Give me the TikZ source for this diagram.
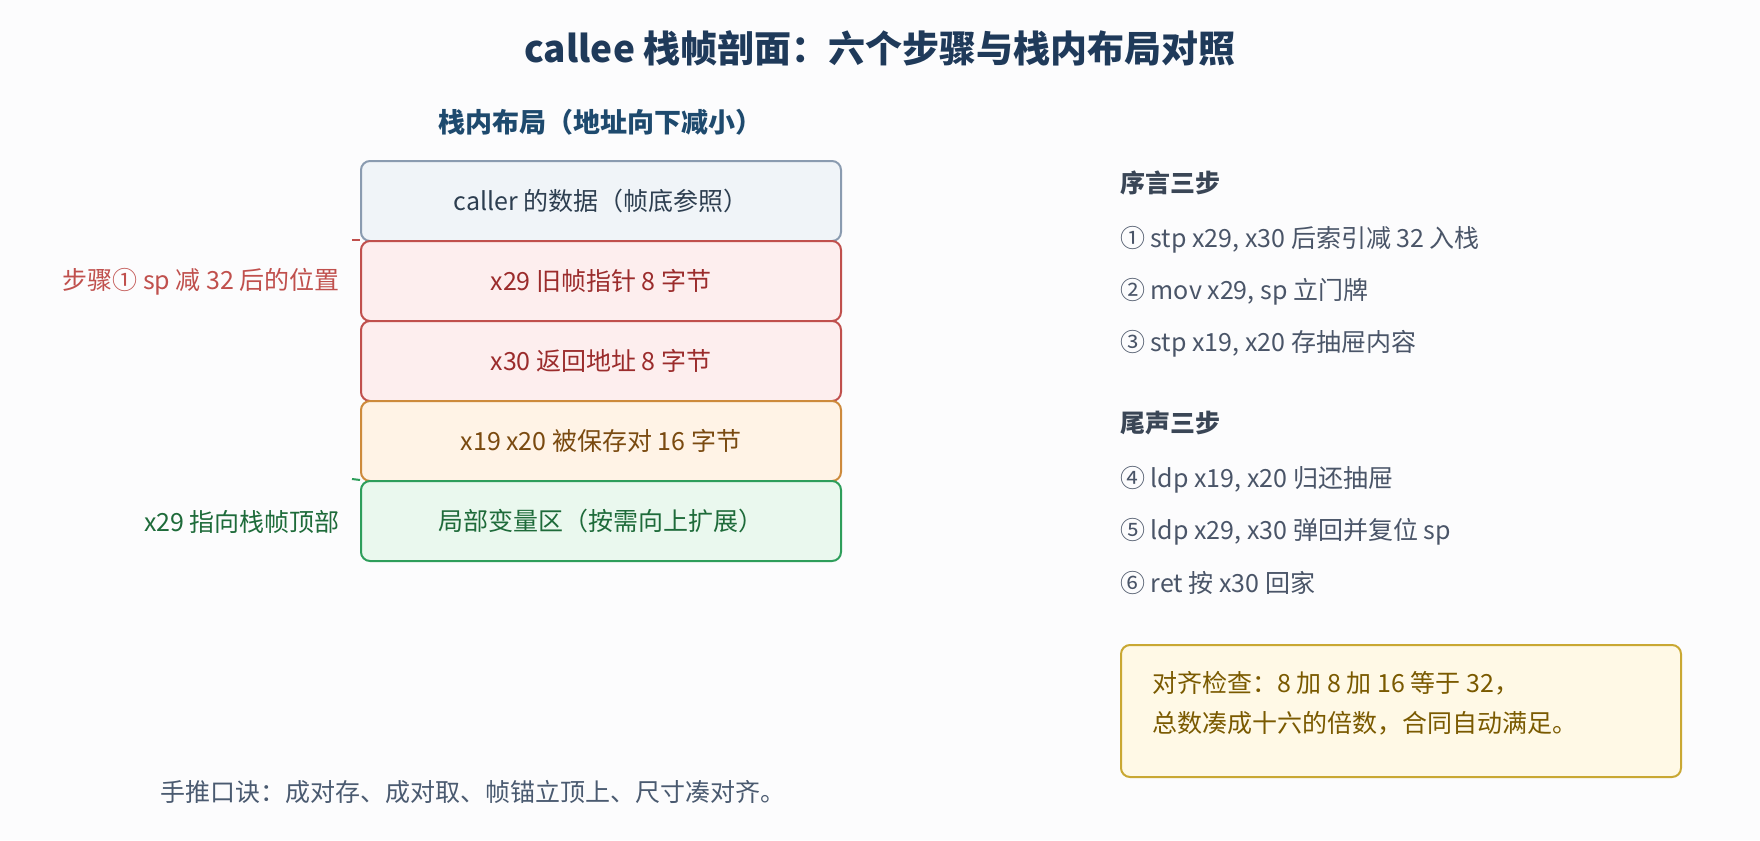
\documentclass[tikz,border=0pt]{standalone}
\usepackage{fontspec}
\setmainfont{Noto Sans CJK SC}
\definecolor{bgc}{HTML}{FCFCFD}
\definecolor{titlec}{HTML}{1F3A5A}
\definecolor{subc}{HTML}{1E4A6E}
\definecolor{grayfill}{HTML}{F0F4F8}
\definecolor{grayline}{HTML}{8A9BB0}
\definecolor{graytext}{HTML}{2D3E50}
\definecolor{redfill}{HTML}{FDEEEE}
\definecolor{redline}{HTML}{C0504D}
\definecolor{redtext}{HTML}{9B2C2C}
\definecolor{redlabel}{HTML}{C0504D}
\definecolor{orfill}{HTML}{FFF3E6}
\definecolor{orline}{HTML}{CD8A3C}
\definecolor{ortext}{HTML}{7A4A10}
\definecolor{grfill}{HTML}{EAF8EE}
\definecolor{grline}{HTML}{2E9E5B}
\definecolor{grtext}{HTML}{1E6B3A}
\definecolor{headc}{HTML}{3A4656}
\definecolor{itemc}{HTML}{4A5568}
\definecolor{yfill}{HTML}{FFF9E6}
\definecolor{yline}{HTML}{C9A833}
\definecolor{ytext}{HTML}{7A5A00}
\definecolor{footc}{HTML}{4A5A70}
\newcommand{\fsz}[1]{\fontsize{#1}{#1}\selectfont}
\begin{document}
\begin{tikzpicture}[x=1pt,y=-1pt,
  slab/.style={draw, line width=2pt, rounded corners=9pt, minimum width=480pt, minimum height=80pt, inner sep=0pt, anchor=north west, font=\fsz{25}},
  lbl/.style={anchor=east, inner sep=0pt, font=\fsz{25}},
  item/.style={anchor=west, inner sep=0pt, font=\fsz{25}, text=itemc},
  head/.style={anchor=west, inner sep=0pt, font=\bfseries\fsz{25}, text=headc},
  tick/.style={line width=2pt}]
\useasboundingbox (0,0) rectangle (1760,840);
\fill[bgc] (0,0) rectangle (1760,840);

\node[font=\bfseries\fsz{37}, text=titlec, inner sep=0pt] (title) at (880,48) {callee 栈帧剖面：六个步骤与栈内布局对照};
\node[font=\bfseries\fsz{27}, text=subc, inner sep=0pt] (sub) at (600,122) {栈内布局（地址向下减小）};

\node[slab, fill=grayfill, draw=grayline, text=graytext] (caller) at (360,160) {caller 的数据（帧底参照）};
\node[slab, fill=redfill, draw=redline, text=redtext] (fp) at (360,240) {x29 旧帧指针 8 字节};
\node[slab, fill=redfill, draw=redline, text=redtext] (lr) at (360,320) {x30 返回地址 8 字节};
\node[slab, fill=orfill, draw=orline, text=ortext] (saved) at (360,400) {x19 x20 被保存对 16 字节};
\node[slab, fill=grfill, draw=grline, text=grtext] (local) at (360,480) {局部变量区（按需向上扩展）};

\node[lbl, text=redlabel] (splbl) at (340,282) {步骤① sp 减 32 后的位置};
\node[lbl, text=grtext] (fplbl) at (340,522) {x29 指向栈帧顶部};
\coordinate (t1) at (352,240);
\coordinate (t2) at (352,479);
\draw[tick, redline] (t1) -- (fp.north west);
\draw[tick, grline] (t2) -- (local.north west);

\node[head] (h1) at (1120,183) {序言三步};
\node[item] (s1) at (1120,240) {① stp x29, x30 后索引减 32 入栈};
\node[item] (s2) at (1120,292) {② mov x29, sp 立门牌};
\node[item] (s3) at (1120,344) {③ stp x19, x20 存抽屉内容};
\node[head] (h2) at (1120,423) {尾声三步};
\node[item] (s4) at (1120,480) {④ ldp x19, x20 归还抽屉};
\node[item] (s5) at (1120,532) {⑤ ldp x29, x30 弹回并复位 sp};
\node[item] (s6) at (1120,583) {⑥ ret 按 x30 回家};

\node[draw=yline, fill=yfill, line width=2pt, rounded corners=9pt, minimum width=560pt, minimum height=132pt, anchor=north west, inner sep=0pt] (note) at (1120,644) {};
\node[anchor=west, inner sep=0pt, font=\fsz{25}, text=ytext] (n1) at (1152,683) {对齐检查：8 加 8 加 16 等于 32，};
\node[anchor=west, inner sep=0pt, font=\fsz{25}, text=ytext] (n2) at (1152,723) {总数凑成十六的倍数，合同自动满足。};

\node[anchor=west, inner sep=0pt, font=\fsz{25}, text=footc] (foot) at (160,792) {手推口诀：成对存、成对取、帧锚立顶上、尺寸凑对齐。};
\end{tikzpicture}
\end{document}
